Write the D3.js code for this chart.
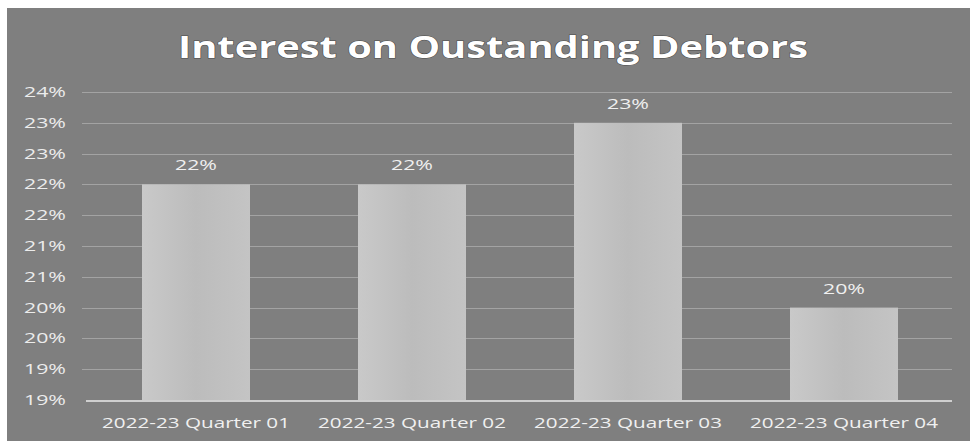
<!DOCTYPE html>
<html>
<head>
<meta charset="utf-8">
<script src="https://cdn.jsdelivr.net/npm/d3@7"></script>
<style>
  html, body { margin: 0; padding: 0; background: #ffffff; }
  svg { display: block; }
</style>
</head>
<body>
<svg id="chart" width="970" height="441"></svg>
<script>
// Quarterly interest rate on outstanding debtors (percent)
const quarters = ["2022-23 Quarter 01", "2022-23 Quarter 02", "2022-23 Quarter 03", "2022-23 Quarter 04"];
const rates = [22, 22, 23, 20];
const rateLabels = ["22%", "22%", "23%", "20%"];
const yTickValues = [18.5, 19, 19.5, 20, 20.5, 21, 21.5, 22, 22.5, 23, 23.5];
const yTickLabels = ["19%", "19%", "20%", "20%", "21%", "21%", "22%", "22%", "23%", "23%", "24%"];
const title = "Interest on Oustanding Debtors";

const W = 970, H = 441;
const svg = d3.select("#chart");
const font = "'Open Sans', 'Liberation Sans', sans-serif";

// chart area panel
svg.append("rect").attr("x", 7).attr("y", 8).attr("width", W - 7).attr("height", H - 8)
  .attr("fill", "#7f7f7f");

const plot = { left: 88, right: 952, top: 92, bottom: 400 };

const x = d3.scaleBand().domain(quarters)
  .range([plot.left, plot.right]).paddingInner(0.5).paddingOuter(0.25);
const y = d3.scaleLinear().domain([18.5, 23.5]).range([plot.bottom, plot.top]);

// gridlines
svg.append("g").selectAll("line").data(yTickValues.slice(1)).join("line")
  .attr("x1", plot.left - 6).attr("x2", plot.right)
  .attr("y1", d => Math.round(y(d)) + 0.5).attr("y2", d => Math.round(y(d)) + 0.5)
  .attr("stroke", "#a3a3a3").attr("stroke-width", 1);

// y axis labels
const yAxis = d3.axisLeft(y).tickValues(yTickValues)
  .tickFormat((d, i) => yTickLabels[i]).tickSize(0).tickPadding(0);
const gy = svg.append("g").attr("transform", `translate(66,0)`).call(yAxis);
gy.select(".domain").remove();
gy.selectAll("text").attr("fill", "#ececec").attr("font-family", font)
  .attr("font-size", 14)
  .attr("textLength", 42).attr("lengthAdjust", "spacingAndGlyphs");

// bars
const barGrad = svg.append("defs").append("linearGradient").attr("id", "barFill")
  .attr("x1", 0).attr("x2", 1).attr("y1", 0).attr("y2", 0);
barGrad.append("stop").attr("offset", "0%").attr("stop-color", "#c9c9c9");
barGrad.append("stop").attr("offset", "50%").attr("stop-color", "#bcbcbc");
barGrad.append("stop").attr("offset", "100%").attr("stop-color", "#c4c4c4");

svg.append("g").selectAll("rect").data(rates).join("rect")
  .attr("x", (d, i) => x(quarters[i]))
  .attr("width", x.bandwidth())
  .attr("y", d => y(d))
  .attr("height", d => plot.bottom - y(d))
  .attr("fill", "url(#barFill)");

// baseline
svg.append("line").attr("x1", plot.left - 2).attr("x2", plot.right)
  .attr("y1", plot.bottom + 1).attr("y2", plot.bottom + 1)
  .attr("stroke", "#cfcfcf").attr("stroke-width", 2);

// value labels
svg.append("g").selectAll("text").data(rates).join("text")
  .attr("x", (d, i) => x(quarters[i]) + x.bandwidth() / 2)
  .attr("y", d => y(d) - 14)
  .attr("text-anchor", "middle")
  .attr("fill", "#f0f0f0").attr("font-family", font).attr("font-size", 14)
  .attr("textLength", 42).attr("lengthAdjust", "spacingAndGlyphs")
  .text((d, i) => rateLabels[i]);

// category labels
const xAxis = d3.axisBottom(x).tickSize(0).tickPadding(0);
const gx = svg.append("g").attr("transform", `translate(0,${plot.bottom + 28})`).call(xAxis);
gx.select(".domain").remove();
gx.selectAll("text").attr("fill", "#f0f0f0").attr("font-family", font)
  .attr("font-size", 15).attr("dy", 0)
  .attr("textLength", 188).attr("lengthAdjust", "spacingAndGlyphs");

// title
svg.append("text").attr("x", 493).attr("y", 58)
  .attr("text-anchor", "middle")
  .attr("fill", "#ffffff").attr("font-family", font).attr("font-weight", "bold")
  .attr("font-size", 30)
  .attr("stroke", "#4a4a4a").attr("stroke-width", 1).attr("paint-order", "stroke")
  .attr("textLength", 630).attr("lengthAdjust", "spacingAndGlyphs")
  .text(title);
</script>
</body>
</html>
